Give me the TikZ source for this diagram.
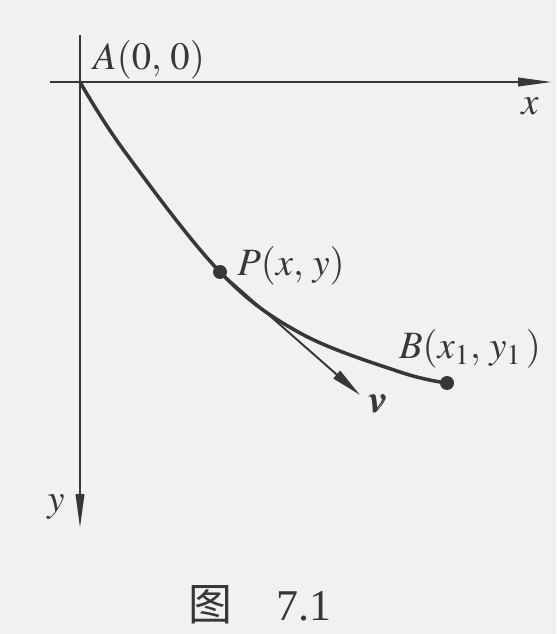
\documentclass[tikz,border=0pt]{standalone}
\usepackage{amsmath,amssymb}
\usepackage{mathptmx}
\usepackage{bm}
\usepackage[no-math]{fontspec}
\setmainfont{Liberation Serif}
\newfontfamily\cjk{Noto Sans CJK SC}
\usepackage{xcolor}
\usepackage{tikz}
\usetikzlibrary{arrows.meta,positioning,calc}

\definecolor{paper}{RGB}{241,241,239}
\definecolor{ink}{RGB}{55,55,55}

\begin{document}
\begin{tikzpicture}[
    x=0.02cm,y=-0.02cm,
    >={Triangle[length=0.68cm,width=0.17cm]},
    axis/.style={->,line width=1.2pt,draw=ink},
    curve/.style={line width=2pt,draw=ink},
    vec/.style={->,line width=1.1pt,draw=ink,
      >={Triangle[length=0.62cm,width=0.2cm]}},
    dot/.style={circle,fill=ink,inner sep=0pt,minimum size=0.28cm},
    lbl/.style={font=\fontsize{22}{26}\selectfont,text=ink,inner sep=0pt},
    captext/.style={font=\fontsize{25}{30}\selectfont,text=ink,inner sep=0pt}
  ]
    \fill[paper] (0,0) rectangle (556,634);
    \useasboundingbox (0,0) rectangle (556,634);
    % axes
    \coordinate (A) at (80,82);
    \coordinate (xl) at (50,82);
    \coordinate (xr) at (552,82);
    \coordinate (yt) at (80,35);
    \coordinate (yb) at (80,528);
    \draw[axis] (xl) -- (xr);
    \draw[axis] (yt) -- (yb);
    % curve A -> B
    \coordinate (P) at (220,272);
    \coordinate (B) at (447,383);
    \coordinate (vtip) at (360,395);
    \draw[curve] plot[smooth,tension=0.6] coordinates
      {(A) (125,152) (P) (300,333) (400,372) (B)};
    \draw[vec] (P) -- (vtip);
    \node[dot] (Pdot) at (P) {};
    \node[dot] (Bdot) at (B) {};
    % labels
    \node[lbl] (Alab) at (149,60) {$A(0,\,0)$};
    \node[lbl] (xlab) at (530,106) {$x$};
    \node[lbl] (ylab) at (56,507) {$y$};
    \node[lbl] (Plab) at (291,266) {$P(x,\,y)$};
    \node[lbl] (Blab) at (470,349) {$B(x_1,\,y_1\,)$};
    \node[lbl] (vlab) at (377,404) {$\bm{v}$};
    \node[captext] (caption) at (260,605) {{\cjk 图}\quad 7.1};
  \end{tikzpicture}
\end{document}
